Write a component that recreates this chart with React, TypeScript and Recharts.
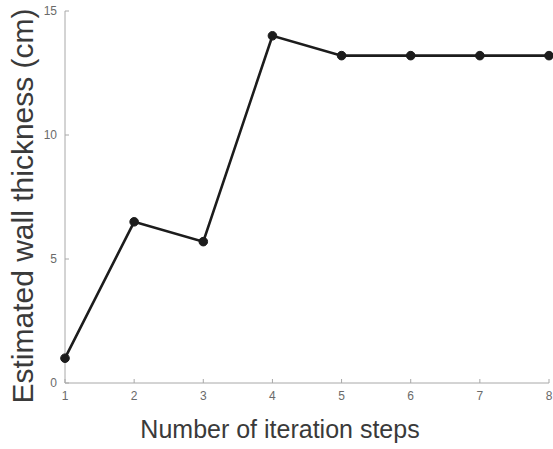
import { LineChart, Line, XAxis, YAxis } from 'recharts';

const steps = [1, 2, 3, 4, 5, 6, 7, 8];
const thickness = [1.0, 6.5, 5.7, 14.0, 13.2, 13.2, 13.2, 13.2];
const xTicks = [1, 2, 3, 4, 5, 6, 7, 8];
const yTicks = [0, 5, 10, 15];

const data = steps.map((s, i) => ({ step: s, value: thickness[i] }));

const axisGray = '#a8a8a8';
const font = "'Liberation Sans', Arial, sans-serif";
const tickStyle = { fontSize: 12, fill: '#6a6a6a', fontFamily: font };
const xLabelStyle = { fontSize: 25, fill: '#3a3a3a', fontFamily: font, textAnchor: 'middle' as const };
const yLabelStyle = { ...xLabelStyle, fontSize: 30 };

export default function App() {
    return (
        <div style={{ position: 'fixed', left: 0, top: 0, background: '#fff' }}>
            <LineChart width={553} height={449} data={data} margin={{ top: 11, right: 4, bottom: 0, left: 0 }}>
                <XAxis
                    dataKey="step"
                    type="number"
                    domain={[1, 8]}
                    ticks={xTicks}
                    height={66}
                    stroke={axisGray}
                    tickSize={-4}
                    tickMargin={12}
                    tick={tickStyle}
                    label={{ value: 'Number of iteration steps', position: 'insideBottom', offset: 11, dx: -27, style: xLabelStyle }}
                />
                <XAxis
                    xAxisId="top"
                    orientation="top"
                    type="number"
                    domain={[1, 8]}
                    ticks={xTicks}
                    height={0}
                    stroke={axisGray}
                    tickSize={-4}
                    tick={false}
                />
                <YAxis
                    type="number"
                    domain={[0, 15]}
                    ticks={yTicks}
                    width={65}
                    stroke={axisGray}
                    tickSize={-4}
                    tickMargin={12}
                    tick={tickStyle}
                    label={{ value: 'Estimated wall thickness (cm)', angle: -90, position: 'insideLeft', offset: 22, dy: 9, style: yLabelStyle }}
                />
                <YAxis
                    yAxisId="right"
                    orientation="right"
                    type="number"
                    domain={[0, 15]}
                    ticks={yTicks}
                    width={0}
                    stroke={axisGray}
                    tickSize={-4}
                    tick={false}
                />
                <Line
                    type="linear"
                    dataKey="value"
                    stroke="#1c1c1c"
                    strokeWidth={2.6}
                    dot={{ r: 4.3, fill: '#1c1c1c', stroke: '#1c1c1c', strokeWidth: 1 }}
                    isAnimationActive={false}
                />
            </LineChart>
        </div>
    );
}
